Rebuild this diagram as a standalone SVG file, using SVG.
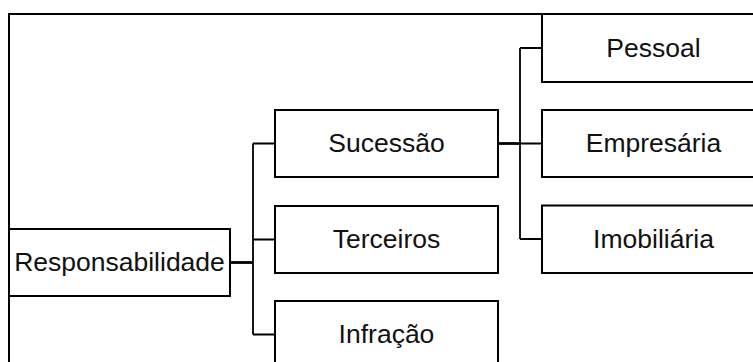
<svg xmlns="http://www.w3.org/2000/svg" width="753" height="362" viewBox="0 0 753 362">
<style>
.box{fill:#fff;stroke:#000;stroke-width:2}
.frame{fill:none;stroke:#000;stroke-width:2}
.lbl{font-family:"Liberation Sans",Arial,sans-serif;font-size:26.5px;fill:#111;text-anchor:middle}
.c{fill:none;stroke:#000;stroke-width:1.8}
.stub{fill:none;stroke:#000;stroke-width:2.8}
</style>
<rect width="753" height="362" fill="#fff"/>
<rect class="frame" x="9" y="14" width="800" height="400"/>
<g id="connectors">
<path class="stub" d="M230 262.5H253"/>
<path class="c" d="M253 143.5V334.5M253 143.5H275M253 239.5H275M253 334.5H275"/>
<path class="stub" d="M498 143.5H520"/>
<path class="c" d="M520 48V239M520 48H542M520 143.5H542M520 239H542"/>
</g>
<g id="responsabilidade">
<rect class="box" x="9" y="229" width="221" height="67"/>
<text class="lbl" x="119.5" y="271">Responsabilidade</text>
</g>
<g id="sucessao">
<rect class="box" x="275" y="110" width="223" height="67"/>
<text class="lbl" x="386.5" y="152">Sucessão</text>
</g>
<g id="terceiros">
<rect class="box" x="275" y="206" width="223" height="67"/>
<text class="lbl" x="386.5" y="248">Terceiros</text>
</g>
<g id="infracao">
<rect class="box" x="275" y="301" width="223" height="67"/>
<text class="lbl" x="386.5" y="343">Infração</text>
</g>
<g id="pessoal">
<rect class="box" x="542" y="14" width="223" height="68"/>
<text class="lbl" x="653.5" y="56.5">Pessoal</text>
</g>
<g id="empresaria">
<rect class="box" x="542" y="110" width="223" height="67"/>
<text class="lbl" x="653.5" y="152">Empresária</text>
</g>
<g id="imobiliaria">
<rect class="box" x="542" y="205.5" width="223" height="67.5"/>
<text class="lbl" x="653.5" y="247.5">Imobiliária</text>
</g>
</svg>
